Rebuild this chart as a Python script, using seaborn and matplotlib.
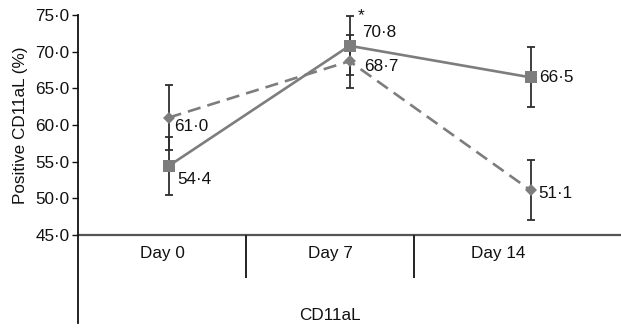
import matplotlib
matplotlib.use("Agg")
import matplotlib.pyplot as plt
import seaborn as sns
import pandas as pd
import numpy as np

days = ["Day 0", "Day 7", "Day 14"]
solid_vals = [54.4, 70.8, 66.5]
solid_err = [4.0, 4.0, 4.1]
dashed_vals = [61.0, 68.7, 51.1]
dashed_err = [4.4, 3.6, 4.1]
y_ticks = [45.0, 50.0, 55.0, 60.0, 65.0, 70.0, 75.0]
x_title = "CD11aL"
y_title = "Positive CD11aL (%)"

sns.set_style("ticks")
plt.rcParams['font.family'] = ['Liberation Sans', 'DejaVu Sans']

W, H = 621, 330
FS = 12.3
fig = plt.figure(figsize=(W / 100, H / 100), dpi=100)
ax = fig.add_axes([78 / W, (H - 235) / H, 543 / W, 220 / H])
ax2 = fig.add_axes([78 / W, (H - 323) / H, 543 / W, 88 / H])

df_s = pd.DataFrame({"x": np.arange(len(days)), "y": solid_vals})
df_d = pd.DataFrame({"x": np.arange(len(days)), "y": dashed_vals})

line_col = "#7d7d7d"
err_col = "#2e2e2e"

ax.errorbar(np.arange(len(days)), dashed_vals, yerr=dashed_err, fmt="none",
            ecolor=err_col, elinewidth=1.3, capsize=3.2, capthick=1.3, zorder=2)
ax.errorbar(np.arange(len(days)), solid_vals, yerr=solid_err, fmt="none",
            ecolor=err_col, elinewidth=1.3, capsize=3.2, capthick=1.3, zorder=2)

sns.lineplot(data=df_d, x="x", y="y", ax=ax, color=line_col, lw=1.9,
             marker="D", markersize=6, markeredgewidth=0, zorder=3)
ax.lines[-1].set_dashes([5, 2.7])
sns.lineplot(data=df_s, x="x", y="y", ax=ax, color=line_col, lw=1.9,
             marker="s", markersize=8.5, markeredgewidth=0, zorder=3)

fmt = lambda v: f"{v:.1f}".replace(".", "\u00b7")

s_off = [(9, -13), (13, 13), (9, 0)]
d_off = [(6, -9), (15, -5), (8, -3)]
for i, v in enumerate(solid_vals):
    ax.annotate(fmt(v), (i, v), xytext=s_off[i], textcoords="offset pixels",
                ha="left", va="center", fontsize=FS, color="#111111")
for i, v in enumerate(dashed_vals):
    ax.annotate(fmt(v), (i, v), xytext=d_off[i], textcoords="offset pixels",
                ha="left", va="center", fontsize=FS, color="#111111")
ax.annotate("*", (1, solid_vals[1] + solid_err[1]), xytext=(12, 1),
            textcoords="offset pixels", ha="center", va="center",
            fontsize=FS, color="#111111")

ax.set_xlim(-0.5, 2.5)
ax.set_ylim(45, 75)
ax.set_yticks(y_ticks)
ax.set_yticklabels([fmt(v) for v in y_ticks], fontsize=FS, color="#111111")
ax.set_xticks([])
ax.set_xlabel("")
ax.set_ylabel(y_title, fontsize=FS, color="#111111", labelpad=5)
ax.tick_params(axis="y", direction="out", length=4, width=1, color="#111111", pad=2)
for s in ["top", "right"]:
    ax.spines[s].set_visible(False)
ax.spines["left"].set_color("#111111")
ax.spines["left"].set_linewidth(1.3)
ax.spines["bottom"].set_color("#555555")
ax.spines["bottom"].set_linewidth(1.6)

# category table below
ax2.set_xlim(0, 543 / 168)
ax2.set_ylim(0, 1)
for s in ["top", "right", "bottom"]:
    ax2.spines[s].set_visible(False)
ax2.spines["left"].set_color("#111111")
ax2.spines["left"].set_linewidth(1.3)
ax2.set_xticks([])
ax2.set_yticks([])
ax2.patch.set_alpha(0)
for k in range(1, len(days)):
    ax2.vlines(k, 0.51, 1.0, color="#222222", lw=1.4)
for i, d in enumerate(days):
    ax2.text(i + 0.5, 0.795, d, ha="center", va="center", fontsize=FS, color="#111111")
ax2.text(1.5, 0.09, x_title, ha="center", va="center", fontsize=FS, color="#111111")

fig.savefig("out.png", dpi=100)
